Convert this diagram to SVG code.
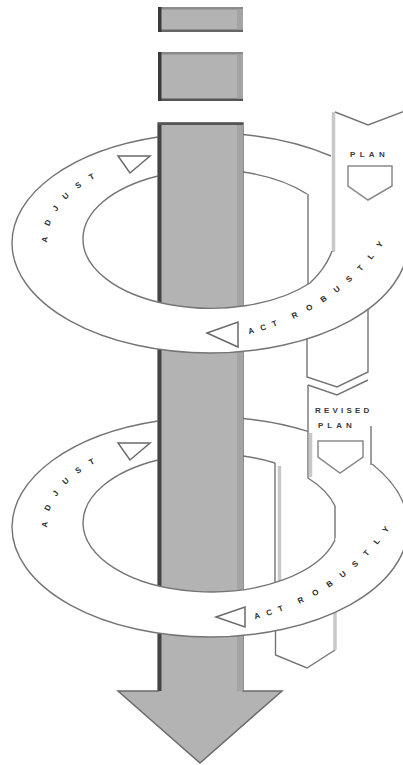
<svg xmlns="http://www.w3.org/2000/svg" width="403" height="765" viewBox="0 0 403 765">
<style>
.ln{fill:none;stroke:#747474;stroke-width:1.4}
.lt{fill:none;stroke:#c8c8c8;stroke-width:3.5}
.band{fill:#fff;stroke:none}
.tx{font-family:"Liberation Sans",Arial,sans-serif;font-weight:bold;font-size:8px;fill:#2e2e2e}
.lbl{font-family:"Liberation Sans",Arial,sans-serif;font-weight:bold;font-size:8px;fill:#3a3a3a}
.tri{fill:#fff;stroke:#6a6a6a;stroke-width:1.5;stroke-linejoin:miter}
.shd{fill:#fff;stroke:#8a8a8a;stroke-width:1.5}
.gr{fill:#b3b3b3}
</style>
<defs>
<path id="pL1" d="M50,256.5 A163,89.5 0 0 1 182.2,152.9"/>
<path id="pR1" d="M242,336 Q345,312 395,226"/>
<path id="pL2" d="M50,541.5 A163,89.5 0 0 1 182.2,437.9"/>
<path id="pR2" d="M248,621 Q351,597 401,511"/>
</defs>
<rect width="403" height="765" fill="#fff"/>

<!-- ring backs -->
<g id="ring1-back">
<path class="ln" d="M158,137 A198,110 0 0 0 12,243"/>
<path class="ln" d="M243,134.5 A198,110 0 0 1 331,156"/>
<path class="ln" d="M158,176 A128,69 0 0 0 83,239"/>
<path class="ln" d="M243,172 A128,69 0 0 1 307,194"/>
</g>
<g id="ring2-back">
<path class="ln" d="M158,421 A198,110 0 0 0 12,527"/>
<path class="ln" d="M243,418.5 A198,110 0 0 1 308,431.4"/>
<path class="ln" d="M372,464 A198,110 0 0 1 408,527"/>
<path class="ln" d="M158,460 A128,69 0 0 0 83,523"/>
<path class="ln" d="M243,456 A128,69 0 0 1 275,463"/>
</g>

<!-- ribbons / plans -->
<g id="plan">
<path class="ln" d="M335,112 L368,125 L405,111"/>
<line class="lt" x1="333.5" y1="112" x2="333.5" y2="252"/>
<line class="ln" x1="308" y1="194" x2="308" y2="285"/>
<text class="lbl" x="350" y="157" letter-spacing="4.3">PLAN</text>
<path class="shd" d="M348,166 L392,166 L392,186 L368,200 L348,186 Z"/>
<path class="ln" d="M307,330 L307,377 L337,387 L368,372 L368,300"/>
</g>
<g id="revised-plan">
<path class="ln" d="M308,385 L337,395 L368,380"/>
<path class="ln" d="M308,385 L308,478 A128,69 0 0 1 335,506 L335,540"/>
<line class="lt" x1="310.5" y1="433" x2="310.5" y2="477"/>
<line class="ln" x1="371" y1="426" x2="371" y2="465"/>
<text class="lbl" x="315" y="413" letter-spacing="3.2">REVISED</text>
<text class="lbl" x="318" y="428" letter-spacing="4">PLAN</text>
<path class="shd" d="M318,441 L363,441 L363,457 L340,473 L318,457 Z"/>
<line class="ln" x1="275" y1="463" x2="275" y2="584"/>
<line class="lt" x1="279.5" y1="466" x2="279.5" y2="581"/>
<path class="ln" d="M275.5,625 L275.5,655 L307,668 L335,650"/>
<line class="lt" x1="335" y1="612" x2="335" y2="650"/>
</g>

<!-- shaft and arrow -->
<g id="shaft">
<rect class="gr" x="158" y="7" width="85" height="25"/>
<rect x="158" y="7" width="85" height="2.5" fill="#8a8a8a"/>
<rect x="158" y="29.5" width="85" height="2.5" fill="#666"/>
<rect x="237" y="9" width="6" height="20.5" fill="#a4a4a4"/>
<rect x="158" y="7" width="3.5" height="25" fill="#3a3a3a"/>
<rect class="gr" x="158" y="52" width="85" height="49"/>
<rect x="158" y="52" width="85" height="2.5" fill="#8a8a8a"/>
<rect x="158" y="98.5" width="85" height="2.5" fill="#555"/>
<rect x="237" y="54" width="6" height="44.5" fill="#a4a4a4"/>
<rect x="158" y="52" width="3.5" height="49" fill="#3a3a3a"/>
<path d="M158,123 L243,123 L243,691 L282,691 L200,763 L118,691 L158,691 Z" fill="#b3b3b3" stroke="#6a6a6a" stroke-width="1.5" stroke-linejoin="miter"/>
<rect x="237" y="124" width="6" height="567" fill="#a4a4a4"/>
<rect x="158" y="123" width="3.5" height="568" fill="#444"/>
<rect x="158" y="122.5" width="85" height="2.5" fill="#555"/>
</g>

<!-- ring fronts -->
<g id="ring1-front">
<path class="band" d="M12,243 A198,110 0 0 0 408,243 L339,239 A128,69 0 0 1 83,239 Z"/>
<path class="ln" d="M12,243 A198,110 0 0 0 408,243"/>
<path class="ln" d="M83,239 A128,69 0 0 0 310,283 Q326,268 332,251"/>
<path class="tri" d="M118,156 L150,156 L130,173 Z"/>
<path class="tri" d="M207,333 L238,322 L238,347 Z"/>
<text class="tx" font-size="8.5" letter-spacing="10.5"><textPath href="#pL1" startOffset="14">ADJUST</textPath></text>
<text class="tx" letter-spacing="7"><textPath href="#pR1" startOffset="7">ACT</textPath></text>
<text class="tx" letter-spacing="10.8"><textPath href="#pR1" startOffset="54">ROBUSTLY</textPath></text>
</g>
<g id="ring2-front">
<path class="band" d="M12,527 A198,110 0 0 0 408,527 L339,523 A128,69 0 0 1 83,523 Z"/>
<path class="ln" d="M12,527 A198,110 0 0 0 408,527"/>
<path class="ln" d="M83,523 A128,69 0 0 0 335,540"/>
<path class="tri" d="M118,443 L150,443 L130,460 Z"/>
<path class="tri" d="M216,617 L245,607 L245,627 Z"/>
<text class="tx" font-size="8.5" letter-spacing="10.5"><textPath href="#pL2" startOffset="14">ADJUST</textPath></text>
<text class="tx" letter-spacing="7"><textPath href="#pR2" startOffset="7">ACT</textPath></text>
<text class="tx" letter-spacing="10.8"><textPath href="#pR2" startOffset="54">ROBUSTLY</textPath></text>
</g>
</svg>
